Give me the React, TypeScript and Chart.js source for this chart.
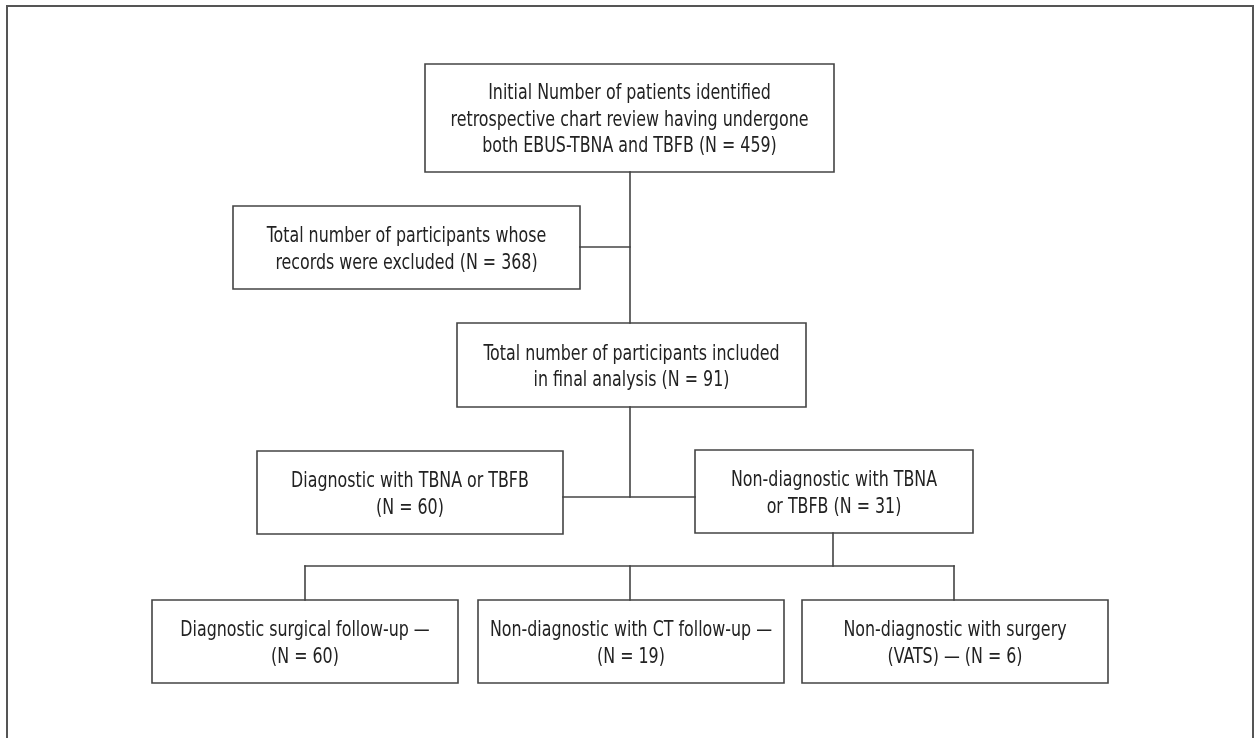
import React, { useEffect, useRef } from "react";
import { Chart, registerables } from "chart.js";

Chart.register(...registerables);

// ---- data ----
const counts = [459, 368, 91, 60, 31, 60, 19, 6];
const boxLines: string[][] = [
  ["Initial Number of patients identified", "retrospective chart review having undergone", `both EBUS-TBNA and TBFB (N = ${counts[0]})`],
  ["Total number of participants whose", `records were excluded (N = ${counts[1]})`],
  ["Total number of participants included", `in final analysis (N = ${counts[2]})`],
  ["Diagnostic with TBNA or TBFB", `(N = ${counts[3]})`],
  ["Non-diagnostic with TBNA", `or TBFB (N = ${counts[4]})`],
  ["Diagnostic surgical follow-up \u2014", `(N = ${counts[5]})`],
  ["Non-diagnostic with CT follow-up \u2014", `(N = ${counts[6]})`],
  ["Non-diagnostic with surgery", `(VATS) \u2014 (N = ${counts[7]})`],
];

// ---- layout (canvas units) ----
const W = 1255;
const H = 738;
const boxLeft = [425, 233, 457, 257, 695, 152, 478, 802];
const boxRight = [834, 580, 806, 563, 973, 458, 784, 1108];
const boxTop = [64, 206, 323, 451, 450, 600, 600, 600];
const boxBottom = [172, 289, 407, 534, 533, 683, 683, 683];
const connectors: number[][][] = [
  [[630, 172], [630, 323]],
  [[580, 247], [630, 247]],
  [[630, 407], [630, 497]],
  [[563, 497], [695, 497]],
  [[833, 533], [833, 566]],
  [[305, 566], [954, 566]],
  [[305, 566], [305, 600]],
  [[630, 566], [630, 600]],
  [[954, 566], [954, 600]],
];
const frame = [[7, 760], [7, 6], [1253, 6], [1253, 760]];
const LINE_H = 26.5;
const TEXT_DY = 2.5;
const TEXT_SX = 0.84;
const FONT = '21px "DejaVu Sans Condensed", "Liberation Sans Narrow", sans-serif';

const lineDs = (pts: number[][], width: number, color: string) => ({
  data: pts.map(([x, y]) => ({ x, y })),
  showLine: true,
  borderColor: color,
  borderWidth: width,
  pointRadius: 0,
  pointHoverRadius: 0,
  borderJoinStyle: "miter" as const,
  borderCapStyle: "square" as const,
  fill: false,
  tension: 0,
  clip: false as any,
});

const textPlugin = {
  id: "boxText",
  afterDatasetsDraw(chart: any) {
    const ctx = chart.ctx;
    const xs = chart.scales.x;
    const ys = chart.scales.y;
    ctx.save();
    ctx.fillStyle = "#222";
    ctx.font = FONT;
    ctx.textAlign = "center";
    ctx.textBaseline = "middle";
    boxLines.forEach((lines, i) => {
      const cx = (boxLeft[i] + boxRight[i]) / 2;
      const cy = (boxTop[i] + boxBottom[i]) / 2;
      const n = lines.length;
      lines.forEach((t, j) => {
        const y = cy + (j - (n - 1) / 2) * LINE_H + TEXT_DY;
        const px = xs.getPixelForValue(cx);
        const py = ys.getPixelForValue(y);
        ctx.save();
        ctx.translate(px, py);
        ctx.scale(TEXT_SX, 1);
        ctx.fillText(t, 0, 0);
        ctx.restore();
      });
    });
    ctx.restore();
  },
};

export default function App() {
  const ref = useRef<HTMLCanvasElement>(null);
  useEffect(() => {
    document.body.style.margin = "0";
    const datasets: any[] = [];
    datasets.push(lineDs(frame, 2, "#555"));
    connectors.forEach((c) => datasets.push(lineDs(c, 1.6, "#444")));
    boxLines.forEach((_, i) => {
      const l = boxLeft[i], r = boxRight[i], t = boxTop[i], b = boxBottom[i];
      datasets.push(lineDs([[l, t], [r, t], [r, b], [l, b], [l, t]], 1.6, "#444"));
    });
    const chart = new Chart(ref.current as HTMLCanvasElement, {
      type: "scatter",
      data: { datasets },
      options: {
        animation: false,
        responsive: false,
        devicePixelRatio: 1,
        layout: { padding: 0 },
        plugins: { legend: { display: false }, tooltip: { enabled: false } },
        events: [],
        scales: {
          x: { type: "linear", min: 0, max: W, display: false },
          y: { type: "linear", min: 0, max: H, reverse: true, display: false },
        },
      },
      plugins: [textPlugin],
    });
    return () => chart.destroy();
  }, []);
  return (
    <div style={{ width: W, height: H, background: "#fff" }}>
      <canvas ref={ref} width={W} height={H} />
    </div>
  );
}
